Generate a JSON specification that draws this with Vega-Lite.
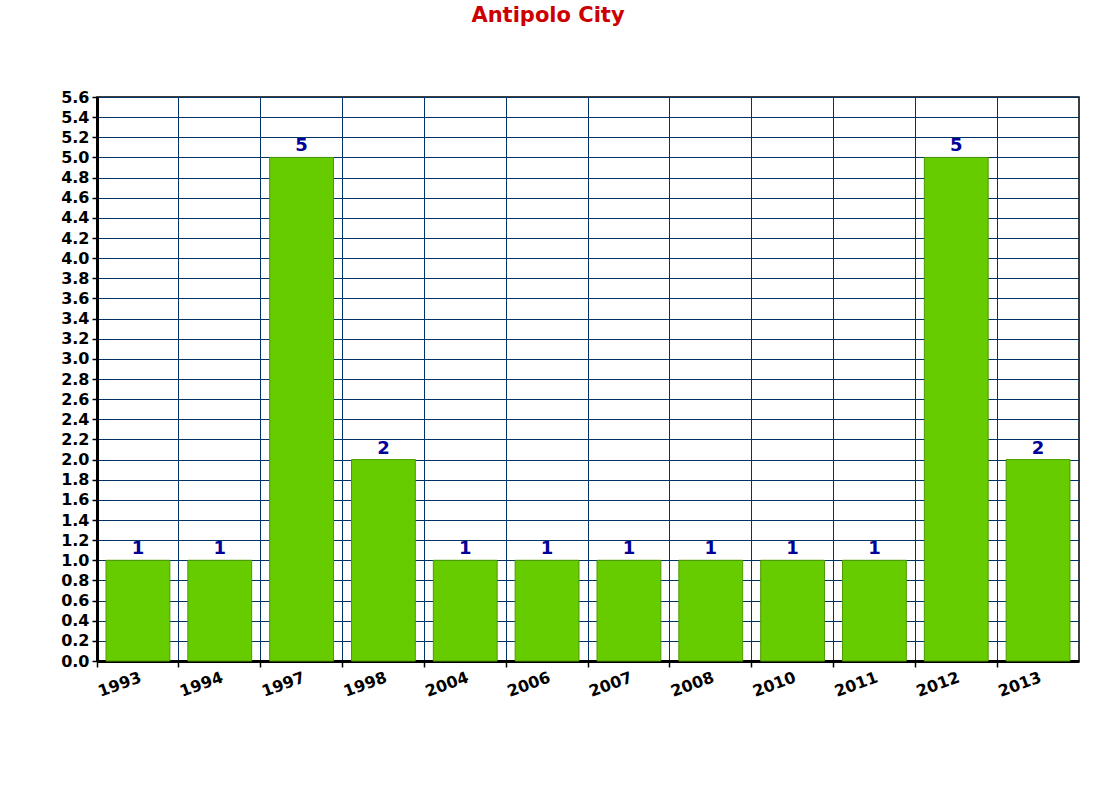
{
  "$schema": "https://vega.github.io/schema/vega-lite/v6.json",
  "autosize": "none",
  "width": 982,
  "height": 564,
  "padding": {"left": 97, "top": 97, "right": 16, "bottom": 144},
  "background": "white",
  "title": {
    "text": "Antipolo City",
    "color": "#CC0000",
    "font": "DejaVu Sans",
    "fontSize": 21,
    "fontWeight": "bold",
    "anchor": "middle",
    "dx": -40,
    "offset": 63
  },
  "config": {
    "view": {"stroke": "black", "strokeWidth": 1.5},
    "axis": {"labelFont": "DejaVu Sans", "labelFontWeight": "bold", "labelColor": "black"}
  },
  "data": {
    "values": [
      {"year": "1993", "count": 1},
      {"year": "1994", "count": 1},
      {"year": "1997", "count": 5},
      {"year": "1998", "count": 2},
      {"year": "2004", "count": 1},
      {"year": "2006", "count": 1},
      {"year": "2007", "count": 1},
      {"year": "2008", "count": 1},
      {"year": "2010", "count": 1},
      {"year": "2011", "count": 1},
      {"year": "2012", "count": 5},
      {"year": "2013", "count": 2}
    ]
  },
  "encoding": {
    "x": {
      "field": "year",
      "type": "nominal",
      "sort": null,
      "scale": {"paddingInner": 0.22, "paddingOuter": 0.11},
      "axis": {
        "title": null,
        "labelAngle": -20,
        "labelFontSize": 16,
        "labelAlign": "right",
        "labelBaseline": "top",
        "labelPadding": 2,
        "bandPosition": -0.141,
        "grid": true,
        "gridColor": "#003366",
        "gridOpacity": 1,
        "gridWidth": 1,
        "domainColor": "black",
        "domainWidth": 3,
        "tickColor": "black",
        "tickSize": 6,
        "tickWidth": 1.5
      }
    },
    "y": {
      "field": "count",
      "type": "quantitative",
      "scale": {"domain": [0, 5.6], "nice": false},
      "axis": {
        "title": null,
        "values": [0,0.2,0.4,0.6,0.8,1.0,1.2,1.4,1.6,1.8,2.0,2.2,2.4,2.6,2.8,3.0,3.2,3.4,3.6,3.8,4.0,4.2,4.4,4.6,4.8,5.0,5.2,5.4,5.6],
        "format": ".1f",
        "labelFontSize": 16,
        "labelPadding": 3,
        "grid": true,
        "gridColor": "#003366",
        "gridOpacity": 1,
        "gridWidth": 1,
        "domainColor": "black",
        "domainWidth": 3,
        "tickColor": "black",
        "tickSize": 5,
        "tickWidth": 1.5
      }
    }
  },
  "layer": [
    {
      "mark": {"type": "bar", "color": "#66CC00", "stroke": "#4C9900", "strokeWidth": 1}
    },
    {
      "mark": {"type": "text", "dy": -11, "color": "#000099", "font": "DejaVu Sans", "fontWeight": "bold", "fontSize": 18},
      "encoding": {"text": {"field": "count", "type": "quantitative"}}
    }
  ]
}
